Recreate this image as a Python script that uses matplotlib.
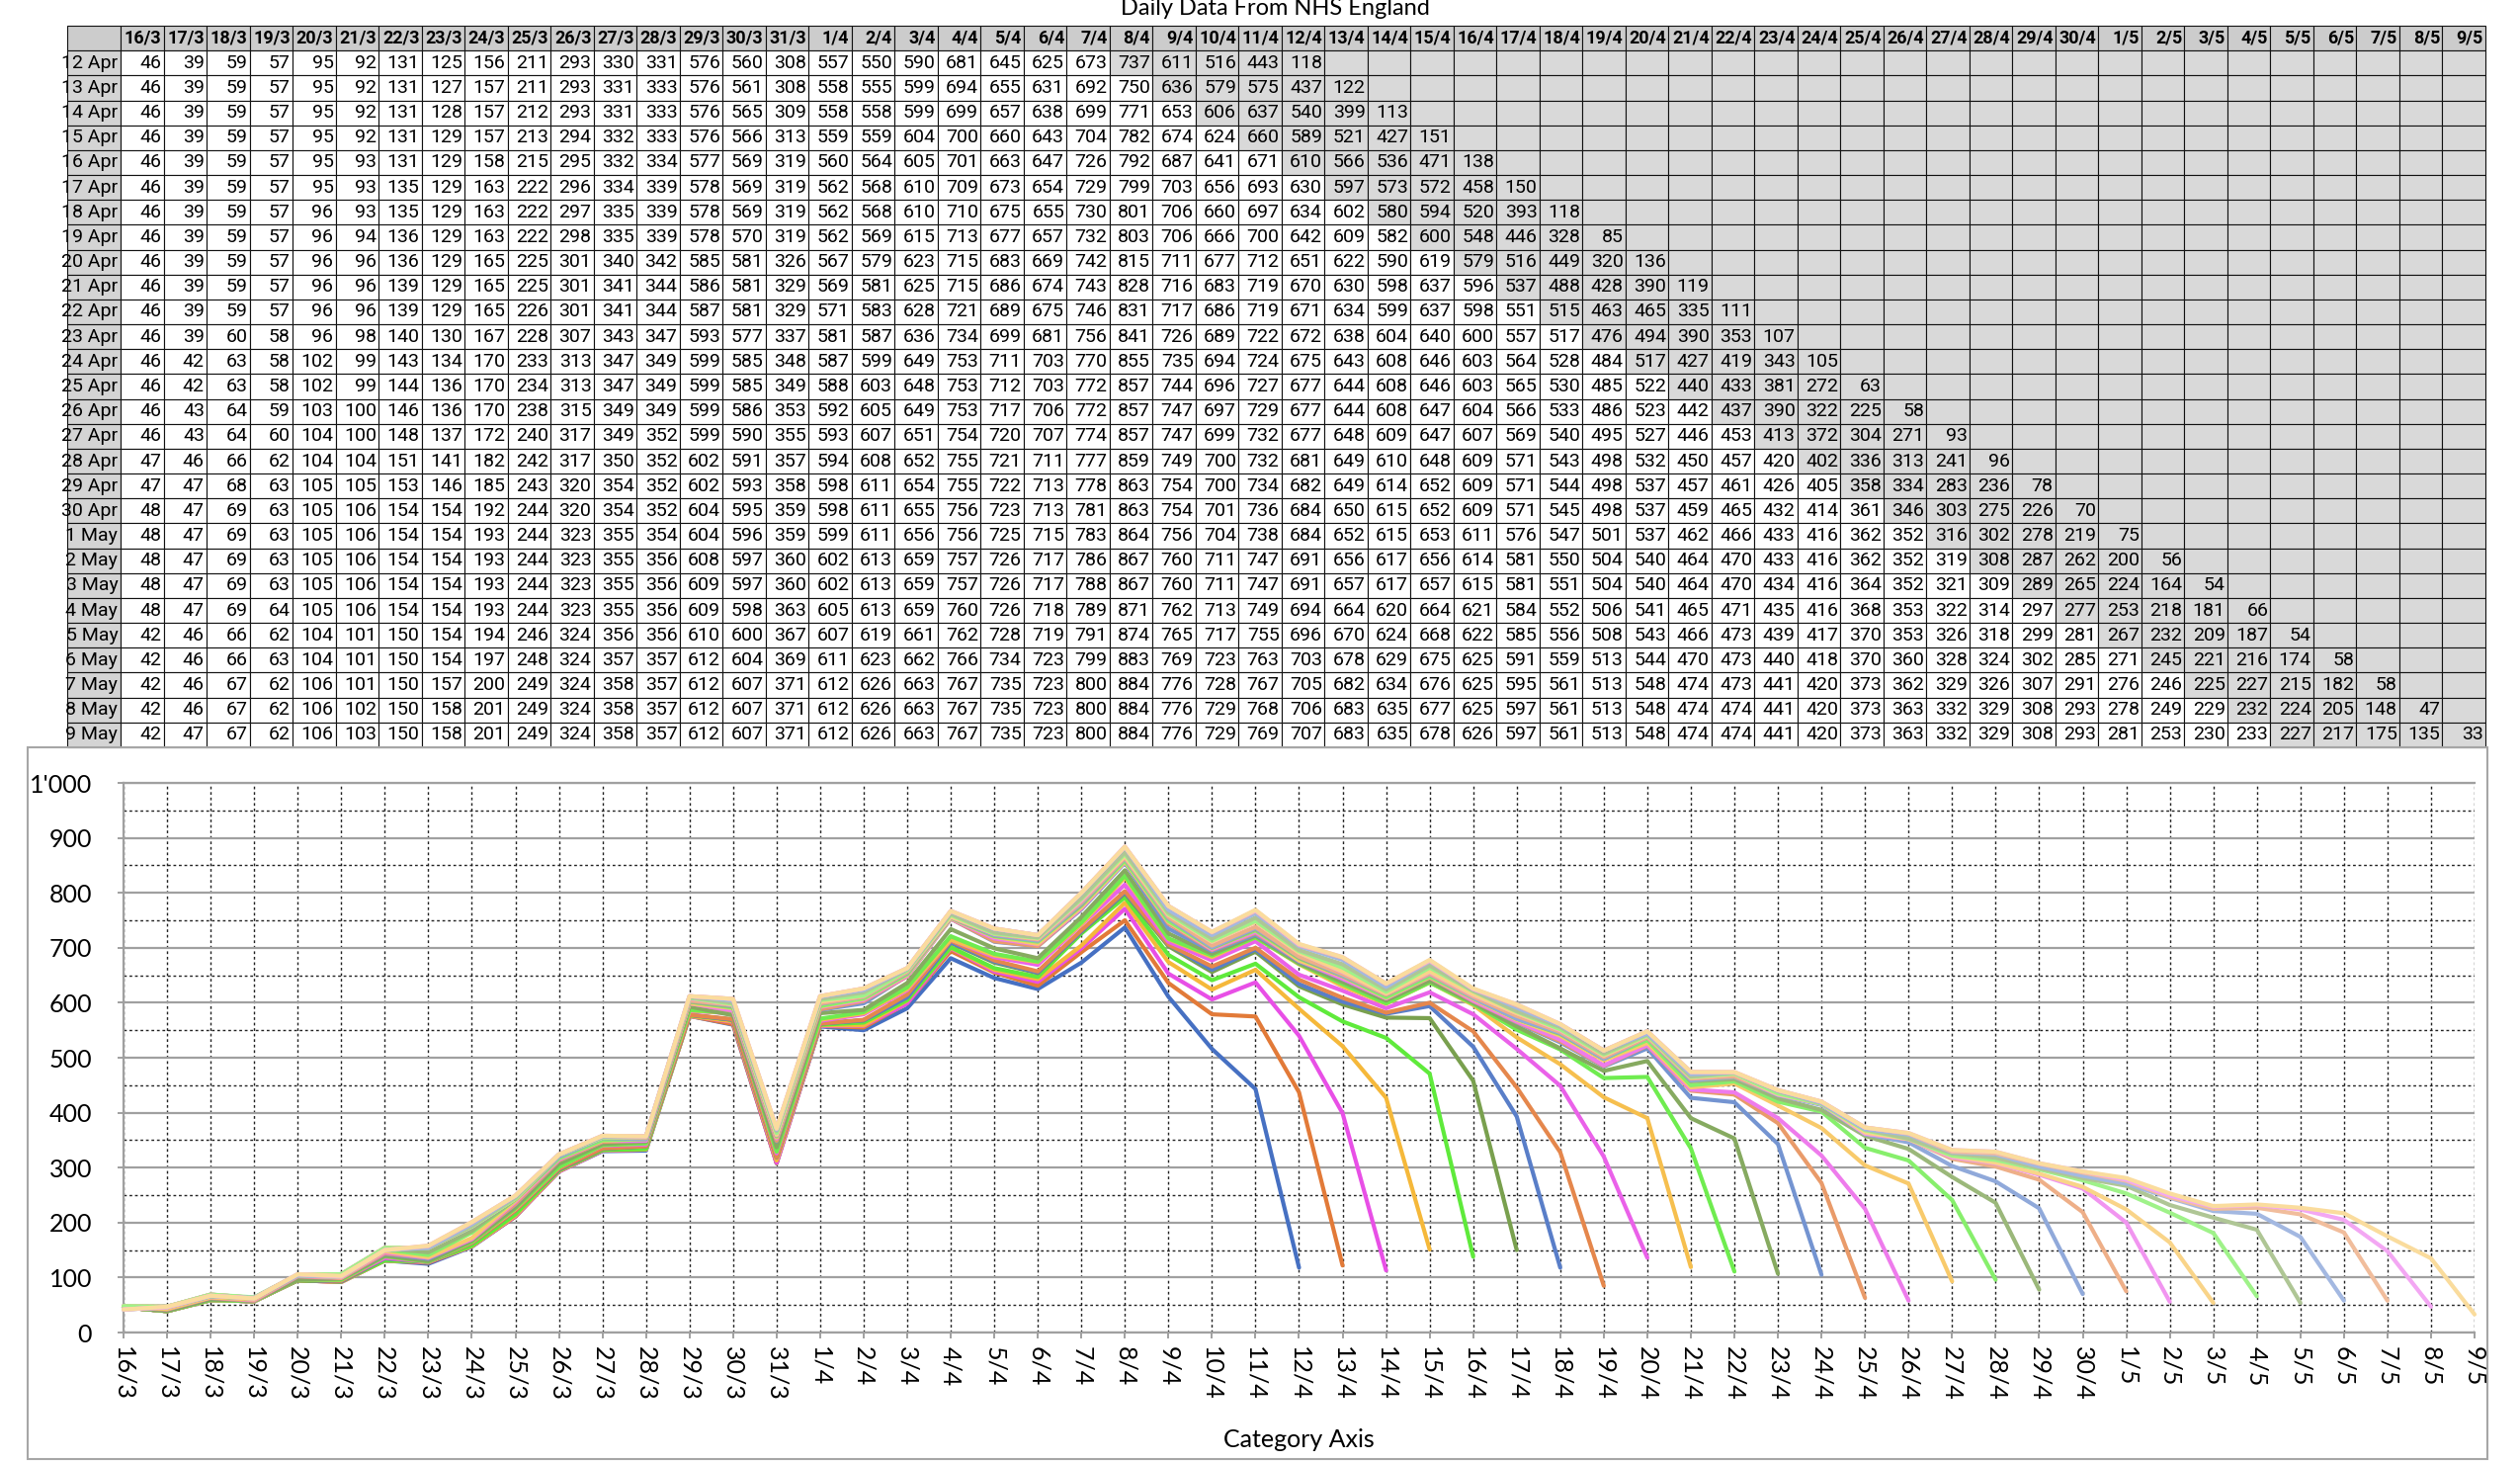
import numpy as np
import matplotlib
matplotlib.use("Agg")
import matplotlib.pyplot as plt
from matplotlib import font_manager
from matplotlib.ticker import MultipleLocator, FuncFormatter
from matplotlib.patches import Rectangle
import matplotlib.colors as mcolors

# ---------------- data ----------------
dates = ['16/3', '17/3', '18/3', '19/3', '20/3', '21/3', '22/3', '23/3', '24/3', '25/3',
         '26/3', '27/3', '28/3', '29/3', '30/3', '31/3',
         '1/4', '2/4', '3/4', '4/4', '5/4', '6/4', '7/4', '8/4', '9/4', '10/4',
         '11/4', '12/4', '13/4', '14/4', '15/4', '16/4', '17/4', '18/4', '19/4', '20/4',
         '21/4', '22/4', '23/4', '24/4', '25/4', '26/4', '27/4', '28/4', '29/4', '30/4',
         '1/5', '2/5', '3/5', '4/5', '5/5', '6/5', '7/5', '8/5', '9/5']

report_days = ['12 Apr', '13 Apr', '14 Apr', '15 Apr', '16 Apr', '17 Apr', '18 Apr',
               '19 Apr', '20 Apr', '21 Apr', '22 Apr', '23 Apr', '24 Apr', '25 Apr',
               '26 Apr', '27 Apr', '28 Apr', '29 Apr', '30 Apr', '1 May', '2 May',
               '3 May', '4 May', '5 May', '6 May', '7 May', '8 May', '9 May']

apr12 = [46, 39, 59, 57, 95, 92, 131, 125, 156, 211, 293, 330, 331, 576, 560, 308,
         557, 550, 590, 681, 645, 625, 673, 737, 611, 516, 443, 118]
apr13 = [46, 39, 59, 57, 95, 92, 131, 127, 157, 211, 293, 331, 333, 576, 561, 308,
         558, 555, 599, 694, 655, 631, 692, 750, 636, 579, 575, 437, 122]
apr14 = [46, 39, 59, 57, 95, 92, 131, 128, 157, 212, 293, 331, 333, 576, 565, 309,
         558, 558, 599, 699, 657, 638, 699, 771, 653, 606, 637, 540, 399, 113]
apr15 = [46, 39, 59, 57, 95, 92, 131, 129, 157, 213, 294, 332, 333, 576, 566, 313,
         559, 559, 604, 700, 660, 643, 704, 782, 674, 624, 660, 589, 521, 427, 151]
apr16 = [46, 39, 59, 57, 95, 93, 131, 129, 158, 215, 295, 332, 334, 577, 569, 319,
         560, 564, 605, 701, 663, 647, 726, 792, 687, 641, 671, 610, 566, 536, 471, 138]
apr17 = [46, 39, 59, 57, 95, 93, 135, 129, 163, 222, 296, 334, 339, 578, 569, 319,
         562, 568, 610, 709, 673, 654, 729, 799, 703, 656, 693, 630, 597, 573, 572, 458, 150]
apr18 = [46, 39, 59, 57, 96, 93, 135, 129, 163, 222, 297, 335, 339, 578, 569, 319,
         562, 568, 610, 710, 675, 655, 730, 801, 706, 660, 697, 634, 602, 580, 594, 520, 393, 118]
apr19 = [46, 39, 59, 57, 96, 94, 136, 129, 163, 222, 298, 335, 339, 578, 570, 319,
         562, 569, 615, 713, 677, 657, 732, 803, 706, 666, 700, 642, 609, 582, 600, 548, 446, 328, 85]
apr20 = [46, 39, 59, 57, 96, 96, 136, 129, 165, 225, 301, 340, 342, 585, 581, 326,
         567, 579, 623, 715, 683, 669, 742, 815, 711, 677, 712, 651, 622, 590, 619, 579, 516, 449,
         320, 136]
apr21 = [46, 39, 59, 57, 96, 96, 139, 129, 165, 225, 301, 341, 344, 586, 581, 329,
         569, 581, 625, 715, 686, 674, 743, 828, 716, 683, 719, 670, 630, 598, 637, 596, 537, 488,
         428, 390, 119]
apr22 = [46, 39, 59, 57, 96, 96, 139, 129, 165, 226, 301, 341, 344, 587, 581, 329,
         571, 583, 628, 721, 689, 675, 746, 831, 717, 686, 719, 671, 634, 599, 637, 598, 551, 515,
         463, 465, 335, 111]
apr23 = [46, 39, 60, 58, 96, 98, 140, 130, 167, 228, 307, 343, 347, 593, 577, 337,
         581, 587, 636, 734, 699, 681, 756, 841, 726, 689, 722, 672, 638, 604, 640, 600, 557, 517,
         476, 494, 390, 353, 107]
apr24 = [46, 42, 63, 58, 102, 99, 143, 134, 170, 233, 313, 347, 349, 599, 585, 348,
         587, 599, 649, 753, 711, 703, 770, 855, 735, 694, 724, 675, 643, 608, 646, 603, 564, 528,
         484, 517, 427, 419, 343, 105]
apr25 = [46, 42, 63, 58, 102, 99, 144, 136, 170, 234, 313, 347, 349, 599, 585, 349,
         588, 603, 648, 753, 712, 703, 772, 857, 744, 696, 727, 677, 644, 608, 646, 603, 565, 530,
         485, 522, 440, 433, 381, 272, 63]
apr26 = [46, 43, 64, 59, 103, 100, 146, 136, 170, 238, 315, 349, 349, 599, 586, 353,
         592, 605, 649, 753, 717, 706, 772, 857, 747, 697, 729, 677, 644, 608, 647, 604, 566, 533,
         486, 523, 442, 437, 390, 322, 225, 58]
apr27 = [46, 43, 64, 60, 104, 100, 148, 137, 172, 240, 317, 349, 352, 599, 590, 355,
         593, 607, 651, 754, 720, 707, 774, 857, 747, 699, 732, 677, 648, 609, 647, 607, 569, 540,
         495, 527, 446, 453, 413, 372, 304, 271, 93]
apr28 = [47, 46, 66, 62, 104, 104, 151, 141, 182, 242, 317, 350, 352, 602, 591, 357,
         594, 608, 652, 755, 721, 711, 777, 859, 749, 700, 732, 681, 649, 610, 648, 609, 571, 543,
         498, 532, 450, 457, 420, 402, 336, 313, 241, 96]
apr29 = [47, 47, 68, 63, 105, 105, 153, 146, 185, 243, 320, 354, 352, 602, 593, 358,
         598, 611, 654, 755, 722, 713, 778, 863, 754, 700, 734, 682, 649, 614, 652, 609, 571, 544,
         498, 537, 457, 461, 426, 405, 358, 334, 283, 236, 78]
apr30 = [48, 47, 69, 63, 105, 106, 154, 154, 192, 244, 320, 354, 352, 604, 595, 359,
         598, 611, 655, 756, 723, 713, 781, 863, 754, 701, 736, 684, 650, 615, 652, 609, 571, 545,
         498, 537, 459, 465, 432, 414, 361, 346, 303, 275, 226, 70]
may01 = [48, 47, 69, 63, 105, 106, 154, 154, 193, 244, 323, 355, 354, 604, 596, 359,
         599, 611, 656, 756, 725, 715, 783, 864, 756, 704, 738, 684, 652, 615, 653, 611, 576, 547,
         501, 537, 462, 466, 433, 416, 362, 352, 316, 302, 278, 219, 75]
may02 = [48, 47, 69, 63, 105, 106, 154, 154, 193, 244, 323, 355, 356, 608, 597, 360,
         602, 613, 659, 757, 726, 717, 786, 867, 760, 711, 747, 691, 656, 617, 656, 614, 581, 550,
         504, 540, 464, 470, 433, 416, 362, 352, 319, 308, 287, 262, 200, 56]
may03 = [48, 47, 69, 63, 105, 106, 154, 154, 193, 244, 323, 355, 356, 609, 597, 360,
         602, 613, 659, 757, 726, 717, 788, 867, 760, 711, 747, 691, 657, 617, 657, 615, 581, 551,
         504, 540, 464, 470, 434, 416, 364, 352, 321, 309, 289, 265, 224, 164, 54]
may04 = [48, 47, 69, 64, 105, 106, 154, 154, 193, 244, 323, 355, 356, 609, 598, 363,
         605, 613, 659, 760, 726, 718, 789, 871, 762, 713, 749, 694, 664, 620, 664, 621, 584, 552,
         506, 541, 465, 471, 435, 416, 368, 353, 322, 314, 297, 277, 253, 218, 181, 66]
may05 = [42, 46, 66, 62, 104, 101, 150, 154, 194, 246, 324, 356, 356, 610, 600, 367,
         607, 619, 661, 762, 728, 719, 791, 874, 765, 717, 755, 696, 670, 624, 668, 622, 585, 556,
         508, 543, 466, 473, 439, 417, 370, 353, 326, 318, 299, 281, 267, 232, 209, 187, 54]
may06 = [42, 46, 66, 63, 104, 101, 150, 154, 197, 248, 324, 357, 357, 612, 604, 369,
         611, 623, 662, 766, 734, 723, 799, 883, 769, 723, 763, 703, 678, 629, 675, 625, 591, 559,
         513, 544, 470, 473, 440, 418, 370, 360, 328, 324, 302, 285, 271, 245, 221, 216, 174, 58]
may07 = [42, 46, 67, 62, 106, 101, 150, 157, 200, 249, 324, 358, 357, 612, 607, 371,
         612, 626, 663, 767, 735, 723, 800, 884, 776, 728, 767, 705, 682, 634, 676, 625, 595, 561,
         513, 548, 474, 473, 441, 420, 373, 362, 329, 326, 307, 291, 276, 246, 225, 227, 215, 182, 58]
may08 = [42, 46, 67, 62, 106, 102, 150, 158, 201, 249, 324, 358, 357, 612, 607, 371,
         612, 626, 663, 767, 735, 723, 800, 884, 776, 729, 768, 706, 683, 635, 677, 625, 597, 561,
         513, 548, 474, 474, 441, 420, 373, 363, 332, 329, 308, 293, 278, 249, 229, 232, 224, 205,
         148, 47]
may09 = [42, 47, 67, 62, 106, 103, 150, 158, 201, 249, 324, 358, 357, 612, 607, 371,
         612, 626, 663, 767, 735, 723, 800, 884, 776, 729, 769, 707, 683, 635, 678, 626, 597, 561,
         513, 548, 474, 474, 441, 420, 373, 363, 332, 329, 308, 293, 281, 253, 230, 233, 227, 217,
         175, 135, 33]

series = [apr12, apr13, apr14, apr15, apr16, apr17, apr18, apr19, apr20, apr21, apr22,
          apr23, apr24, apr25, apr26, apr27, apr28, apr29, apr30, may01, may02, may03,
          may04, may05, may06, may07, may08, may09]

# ---------------- style ----------------
avail = {f.name for f in font_manager.fontManager.ttflist}
table_font = 'Liberation Sans Narrow' if 'Liberation Sans Narrow' in avail else 'Roboto'
chart_font = 'Lato' if 'Lato' in avail else 'DejaVu Sans'
plt.rcParams['font.family'] = [chart_font, 'DejaVu Sans']

base_colours = ['#4670c2', '#e27a38', '#e84fe6', '#f5b83a', '#5fea3b', '#79a04e']
tints = [0.0, 0.1, 0.25, 0.4, 0.5]


def tint(c, t):
    r = np.array(mcolors.to_rgb(c))
    return tuple(r + (1 - r) * t)


colours = [tint(base_colours[i % 6], tints[i // 6]) for i in range(len(series))]

W, H = 2550, 1480
fig = plt.figure(figsize=(W / 100, H / 100), dpi=100)

# title (partly cut at top, as in the reference)
fig.text(1290 / W, 1 - 15 / H, 'Daily Data From NHS England', ha='center', va='baseline',
         fontsize=17)

# ---------------- table ----------------
tax = fig.add_axes([68 / W, 1 - 756 / H, (2515 - 68) / W, (756 - 26) / H])
tax.axis('off')
ncol = len(dates)
cell_text = []
cell_cols = []
for k, (lab, vals) in enumerate(zip(report_days, series)):
    cell_text.append([lab] + [str(v) for v in vals] + [''] * (ncol - len(vals)))
    row_cols = ['#d4d4d4']
    for j in range(ncol):
        row_cols.append('#ffffff' if (j < len(vals) and j <= 22 + k) else '#d9d9d9')
    cell_cols.append(row_cols)

tbl = tax.table(cellText=cell_text, colLabels=[''] + dates, cellColours=cell_cols,
                colColours=['#cccccc'] * (ncol + 1), colWidths=[54] + [43.5] * ncol,
                bbox=[0, 0, 1, 1], cellLoc='right', colLoc='right')
tbl.auto_set_font_size(False)
tbl.set_fontsize(14)
for (r, c), cell in tbl.get_celld().items():
    cell.set_edgecolor('#111111')
    cell.set_linewidth(0.8)
    cell.PAD = 0.05
    txt = cell.get_text()
    txt.set_fontfamily(table_font)
    if r == 0:
        txt.set_fontweight('bold')
        txt.set_fontsize(13)

# ---------------- chart ----------------
fig.add_artist(Rectangle((28 / W, 1 - 1476 / H), (2517 - 28) / W, (1476 - 756) / H,
                         transform=fig.transFigure, fill=False, edgecolor='#a6a6a6', lw=1.5))

ax = fig.add_axes([125 / W, 1 - 1348 / H, (2504 - 125) / W, (1348 - 792) / H])
for i, vals in enumerate(series):
    ax.plot(np.arange(len(vals)), vals, color=colours[i], lw=3.0,
            solid_joinstyle='round', solid_capstyle='round', zorder=3 + i * 0.01, clip_on=False)

ax.set_xlim(0, ncol - 1)
ax.set_ylim(0, 1000)
ax.set_xticks(np.arange(ncol))
ax.set_xticklabels(dates, rotation=-90, ha='center', va='top')
ax.yaxis.set_major_locator(MultipleLocator(100))
ax.yaxis.set_minor_locator(MultipleLocator(50))
ax.yaxis.set_major_formatter(FuncFormatter(
    lambda v, _: "1'000" if v >= 1000 else f"{int(v)}"))

ax.set_axisbelow(True)
ax.grid(which='major', axis='y', color='#a0a0a0', lw=1.6, ls='-')
ax.grid(which='minor', axis='y', color='#222222', lw=1.0, ls=(0, (2, 2)))
ax.grid(which='major', axis='x', color='#222222', lw=1.0, ls=(0, (2, 2)))

for s in ['left', 'bottom', 'top']:
    ax.spines[s].set_color('#a0a0a0')
    ax.spines[s].set_linewidth(1.6)
ax.spines['right'].set_visible(False)

ax.tick_params(axis='y', which='major', direction='out', length=4, color='#a0a0a0',
               width=1.4, labelsize=18, pad=19)
ax.tick_params(axis='y', which='minor', length=0)
ax.tick_params(axis='x', which='major', direction='out', length=4, color='#a0a0a0',
               width=1.4, labelsize=18, pad=6)

fig.text(1314 / W, 1 - 1457 / H, 'Category Axis', ha='center', va='center', fontsize=18)

fig.savefig('out.png', dpi=100)
